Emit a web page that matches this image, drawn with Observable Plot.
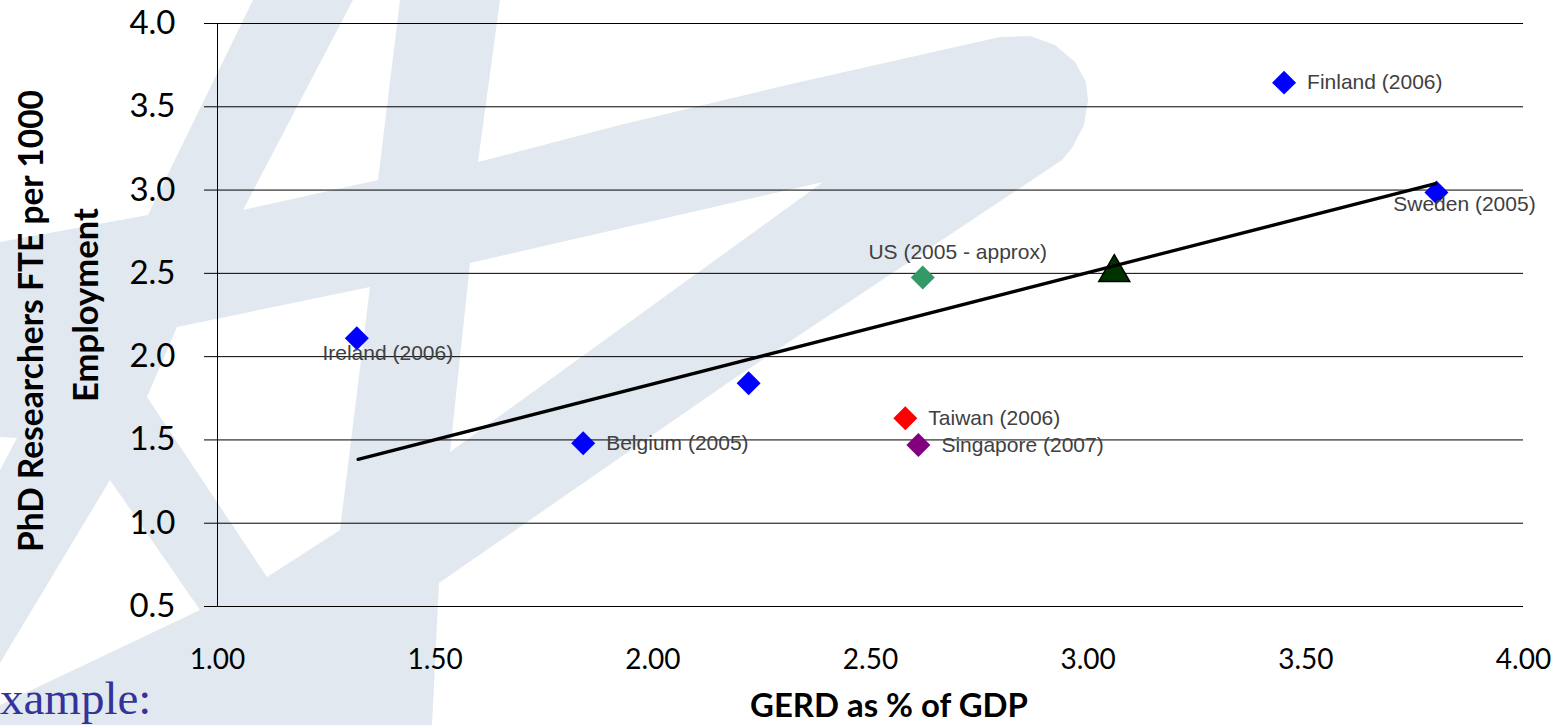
<!DOCTYPE html>
<html>
<head>
<meta charset="utf-8">
<script src="https://cdn.jsdelivr.net/npm/d3@7"></script>
<script src="https://cdn.jsdelivr.net/npm/@observablehq/plot@0.6"></script>
<style>
  html, body { margin: 0; padding: 0; background: #fff; }
  #wrap { position: relative; width: 1552px; height: 725px; overflow: hidden; }
  #bg, #chart { position: absolute; left: 0; top: 0; }
</style>
</head>
<body>
<div id="wrap">
  <svg id="bg" width="1552" height="725"></svg>
  <div id="chart"></div>
</div>
<script>
// ---------------- data ----------------
const countries = ["Ireland (2006)", "Belgium (2005)", "", "Taiwan (2006)", "Singapore (2007)", "US (2005 - approx)", "Finland (2006)", "Sweden (2005)"];
const gerd      = [1.32, 1.84, 2.22, 2.58, 2.61, 2.62, 3.45, 3.80];
const phd       = [2.11, 1.48, 1.84, 1.63, 1.47, 2.475, 3.645, 2.985];
const groupGerd = [3.06];
const groupPhd  = [2.505];
const trendGerd = [1.323, 3.798];
const trendPhd  = [1.383, 3.039];
const xTicks = [1.0, 1.5, 2.0, 2.5, 3.0, 3.5, 4.0];
const yTicks = [0.5, 1.0, 1.5, 2.0, 2.5, 3.0, 3.5, 4.0];
const xTitle = "GERD as % of GDP";
const yTitle = ["PhD Researchers FTE per 1000", "Employment"];
const slideNote = "xample:";

// ---------------- styles ----------------
const pointColor = {"Taiwan (2006)": "#ff0000", "Singapore (2007)": "#800080", "US (2005 - approx)": "#339966"};
const colorOf = name => pointColor[name] || "#0000ff";

// background watermark (decorative slide artwork, pixel space)
const wmOuter = [[253,0],[500,0],[478,162],[620,125],[800,82],[1000,37],[1030,36],[1055,45],[1075,62],[1086,82],[1088,100],[1084,125],[1072,148],[1062,160],[900,268],[732,380],[439,583],[432,725],[0,725],[0,242],[148,215]];
const wmHoles = [
  [[353,0],[400,0],[378,180],[243,210]],
  [[470,263],[823,182],[450,452]],
  [[177,327],[370,287],[340,530],[267,577],[147,397]],
  [[110,480],[200,610],[0,705],[0,663]],
  [[0,437],[17,438],[0,470]]
];
const poly = pts => "M" + pts.map(p => p.join(",")).join("L") + "Z";
const bg = d3.select("#bg");
bg.append("path")
  .attr("d", poly(wmOuter) + wmHoles.map(poly).join(""))
  .attr("fill", "#e1e8ef")
  .attr("fill-rule", "evenodd");
bg.append("text")
  .attr("x", 0).attr("y", 714)
  .attr("font-family", "'Liberation Serif', 'DejaVu Serif', serif")
  .attr("font-size", 47)
  .attr("fill", "#333399")
  .text(slideNote);

// ---------------- chart ----------------
const points = countries.map((name, i) => ({name, x: gerd[i], y: phd[i]}));
const group = groupGerd.map((x, i) => ({x, y: groupPhd[i]}));
const trend = trendGerd.map((x, i) => ({x, y: trendPhd[i]}));

const labelFont = {fontFamily: "'Liberation Sans', Arial, sans-serif", fontSize: 21, fill: "#404040"};
const rightLabels = ["Finland (2006)", "Belgium (2005)", "Taiwan (2006)", "Singapore (2007)"];

const chart = Plot.plot({
  width: 1552,
  height: 725,
  marginLeft: 217,
  marginRight: 29,
  marginTop: 23,
  marginBottom: 119,
  style: {background: "transparent", fontFamily: "Lato, sans-serif", overflow: "visible"},
  x: {domain: [1, 4], label: null},
  y: {domain: [0.5, 4], label: null},
  color: {type: "identity"},
  marks: [
    Plot.ruleY(yTicks, {stroke: "#000", strokeWidth: 1}),
    Plot.ruleX([xTicks[0]], {stroke: "#000", strokeWidth: 1}),
    Plot.axisY({ticks: yTicks, tickSize: 13, tickPadding: 29, tickFormat: d3.format(".1f"), fontSize: 33, label: null, stroke: "#000", fill: "#000"}),
    Plot.axisX({ticks: xTicks, tickSize: 0, tickPadding: 43, tickFormat: d3.format(".2f"), fontSize: 28, label: null, fill: "#000"}),
    Plot.dot(points, {x: "x", y: "y", symbol: "diamond2", r: 10.8, fill: d => colorOf(d.name), stroke: "none"}),
    Plot.dot(group, {x: "x", y: "y", symbol: "triangle", r: 11.5, fill: "#003300", stroke: "#000", strokeWidth: 1.5}),
    Plot.line(trend, {x: "x", y: "y", stroke: "#000", strokeWidth: 3.3}),
    Plot.text(points.filter(d => rightLabels.includes(d.name)), {x: "x", y: "y", text: "name", textAnchor: "start", dx: 23, dy: 0, ...labelFont}),
    Plot.text(points.filter(d => d.name === "Ireland (2006)"), {x: "x", y: "y", text: "name", textAnchor: "middle", dx: 31, dy: 15, ...labelFont}),
    Plot.text(points.filter(d => d.name === "US (2005 - approx)"), {x: "x", y: "y", text: "name", textAnchor: "middle", dx: 35, dy: -25, ...labelFont}),
    Plot.text(points.filter(d => d.name === "Sweden (2005)"), {x: "x", y: "y", text: "name", textAnchor: "middle", dx: 28, dy: 12, ...labelFont})
  ]
});
document.getElementById("chart").appendChild(chart);

const svg = d3.select(chart);
svg.selectAll('g[aria-label="y-axis tick label"]').attr("font-size", 33).attr("fill", "#000");
svg.selectAll('g[aria-label="x-axis tick label"]').attr("font-size", 28).attr("fill", "#000");

const titleFont = "Lato, 'Open Sans', sans-serif";
const tX = svg.append("text")
  .attr("x", 889).attr("y", 717)
  .attr("text-anchor", "middle")
  .attr("font-family", titleFont).attr("font-weight", "bold").attr("font-size", 34)
  .attr("fill", "#000")
  .text(xTitle);
const tY1 = svg.append("text")
  .attr("transform", "translate(43,321) rotate(-90)")
  .attr("text-anchor", "middle")
  .attr("font-family", titleFont).attr("font-weight", "bold").attr("font-size", 34)
  .attr("fill", "#000")
  .text(yTitle[0]);
const tY2 = svg.append("text")
  .attr("transform", "translate(98,305) rotate(-90)")
  .attr("text-anchor", "middle")
  .attr("font-family", titleFont).attr("font-weight", "bold").attr("font-size", 34)
  .attr("fill", "#000")
  .text(yTitle[1]);

function fit(sel, target) {
  sel.attr("font-size", 34);
  const w = sel.node().getComputedTextLength();
  if (w > 0) sel.attr("font-size", (34 * target / w).toFixed(2));
}
function fitAll() {
  fit(tX, 278);
  fit(tY1, 462);
  fit(tY2, 194);
}
fitAll();
if (document.fonts && document.fonts.ready) document.fonts.ready.then(fitAll);
</script>
</body>
</html>
